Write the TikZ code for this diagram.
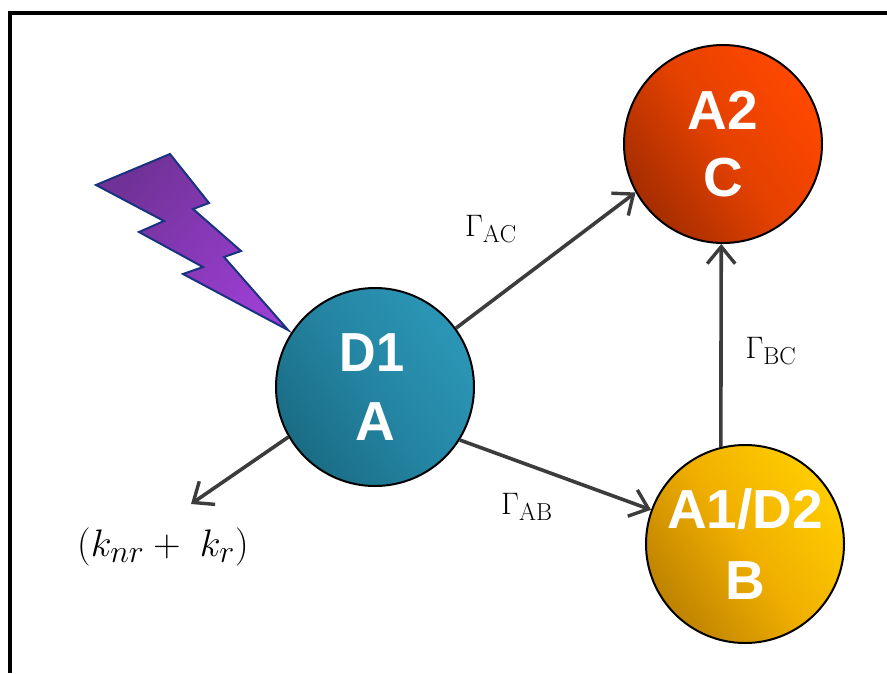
\documentclass[tikz,border=0pt]{standalone}
\usepackage{fontspec}
\setsansfont{Liberation Sans}
\usetikzlibrary{arrows.meta}
\definecolor{linkc}{HTML}{3C3C3C}
\tikzset{
  x=1pt,y=-1pt,
  ball/.style={circle,draw=black,line width=2pt,minimum size=198pt,inner sep=0pt,align=center,
    text=white,font=\sffamily\bfseries\fontsize{55}{68}\selectfont},
  tilt/.style={shading angle=125},
  link/.style={draw=linkc,line width=3.6pt,-{Straight Barb[length=17pt,width=28pt,line width=3.4pt]}},
  lab/.style={text=black,font=\fontsize{28}{32}\selectfont,inner sep=0pt},
}
\begin{document}
\begin{tikzpicture}
\useasboundingbox (0,0) rectangle (887,673);
\fill[white] (0,0) rectangle (887,673);
\draw[black,line width=3.6pt] (10,673) -- (10,13) -- (887,13);
\path[draw={rgb,255:red,25;green,50;blue,130},line width=2pt,line join=miter,
  left color={rgb,255:red,112;green,50;blue,150},right color={rgb,255:red,155;green,62;blue,210},shading angle=50]
  (96,185) -- (170,154) -- (209,203) -- (193,209) -- (241,251) -- (224,257) -- (288,330)
  -- (183,274) -- (203,267) -- (139,232) -- (164,221) -- cycle;
\node[ball,left color={rgb,255:red,26;green,108;blue,132},right color={rgb,255:red,44;green,150;blue,182},middle color={rgb,255:red,36;green,133;blue,163},tilt] (d) at (375,387) {\hspace*{-6pt}\scalebox{0.92}[1]{D1}\\[1pt]A};
\node[ball,left color={rgb,255:red,165;green,45;blue,0},right color={rgb,255:red,255;green,72;blue,0},middle color={rgb,255:red,228;green,65;blue,0},tilt] (c) at (723,144) {A2\\[-1pt]C};
\node[ball,left color={rgb,255:red,190;green,130;blue,0},right color={rgb,255:red,255;green,205;blue,0},middle color={rgb,255:red,240;green,175;blue,0},tilt] (b) at (745,544) {A1/D2\\[3pt]B};
\coordinate (out) at (191,504);
\draw[link] (d.36.6) -- (c.209);
\draw[link] (d.-32.8) -- (b.160);
\draw[link] (b.104) -- (c.269);
\draw[link] (d.210) -- (out);
\node[lab] (l1) at (491,229) {\scalebox{1.25}{$\Gamma_{\mathrm{AC}}$}};
\node[lab] (l2) at (527,507) {\scalebox{1.25}{$\Gamma_{\mathrm{AB}}$}};
\node[lab] (l3) at (771,351) {\scalebox{1.25}{$\Gamma_{\mathrm{BC}}$}};
\node[lab] (l4) at (163,547) {\scalebox{1.54}{$(k_{nr}+\;k_r)$}};
\end{tikzpicture}
\end{document}
